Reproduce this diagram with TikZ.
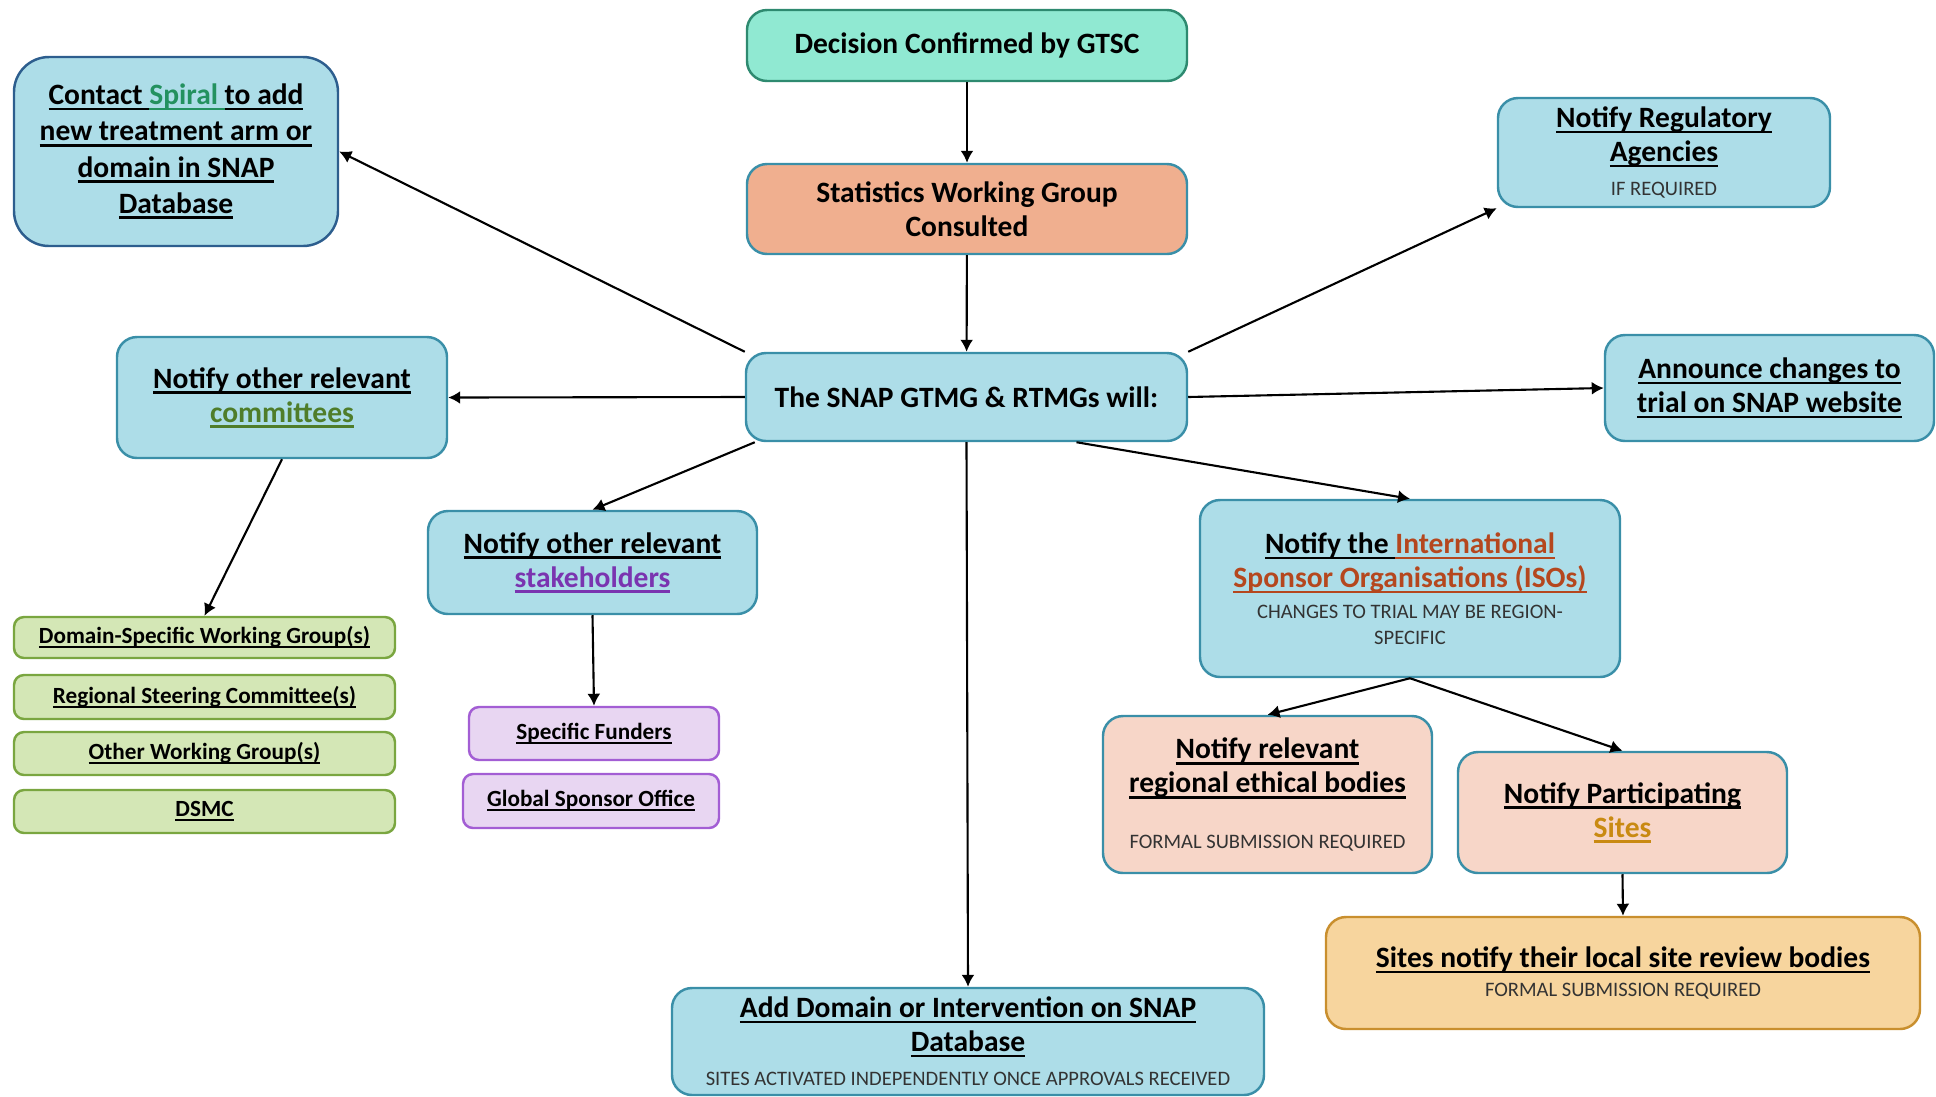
\documentclass[tikz,border=0pt]{standalone}
\usepackage{fontspec}
\setmainfont{Carlito}
\usepackage{xcolor}
\usetikzlibrary{calc}
\usetikzlibrary{arrows.meta}

% ---- Colours ----
\definecolor{mintfill}{HTML}{90E9D2}
\definecolor{mintline}{HTML}{2E8A70}
\definecolor{salmonfill}{HTML}{F0AF8F}
\definecolor{skyfill}{HTML}{ADDDE8}
\definecolor{skyline}{HTML}{3A8FA8}
\definecolor{navyline}{HTML}{2D5E8E}
\definecolor{leaffill}{HTML}{D4E7B6}
\definecolor{leafline}{HTML}{7AA640}
\definecolor{lilacfill}{HTML}{E8D6F2}
\definecolor{lilacline}{HTML}{A35ED4}
\definecolor{peachfill}{HTML}{F7D6C8}
\definecolor{goldfill}{HTML}{F7D59E}
\definecolor{goldline}{HTML}{C98F2E}
\definecolor{spiralgreen}{HTML}{23915F}
\definecolor{comgreen}{HTML}{4F7D2A}
\definecolor{stakepurple}{HTML}{7A34B0}
\definecolor{isored}{HTML}{B5471E}
\definecolor{sitesorange}{HTML}{C98A12}
\definecolor{notegray}{HTML}{333333}

% underline with its own colour and weight
\newcommand{\ulbar}[2][black]{\sbox0{#2}\leavevmode\rlap{\textcolor{#1}{\rule[-0.19em]{\wd0}{0.085em}}}\usebox0}
\newcommand{\notefont}{\fontsize{5.85}{7}\selectfont\mdseries\color{notegray}}

\begin{document}
\begin{tikzpicture}[
		font=\fontsize{8.4}{9.7}\selectfont\bfseries,
		box/.style={draw, rounded corners=0.2cm, line width=0.7pt, align=center, inner sep=2pt},
		mintbox/.style={box, fill=mintfill, draw=mintline},
		salmonbox/.style={box, fill=salmonfill, draw=skyline},
		skybox/.style={box, fill=skyfill, draw=skyline},
		peachbox/.style={box, fill=peachfill, draw=skyline},
		goldbox/.style={box, fill=goldfill, draw=goldline},
		leafbox/.style={box, rounded corners=0.1cm, fill=leaffill, draw=leafline, minimum width=3.81cm, font=\fontsize{6.6}{7.4}\selectfont\bfseries},
		lilacbox/.style={box, rounded corners=0.1cm, fill=lilacfill, draw=lilacline, font=\fontsize{6.6}{7.4}\selectfont\bfseries},
		arr/.style={-{Latex[length=1.2mm,width=1.3mm]}, line width=0.6pt}
	]
		% ---- Canvas ----
		\useasboundingbox (0,0) rectangle (19.36,-10.96);
		
		% ---- Main column ----
		\node[mintbox, minimum width=4.40cm, minimum height=0.71cm] (decision) at (9.67,-0.455) {Decision Confirmed by GTSC};
		\node[salmonbox, minimum width=4.40cm, minimum height=0.90cm] (stats) at (9.67,-2.09) {Statistics Working Group\\Consulted};
		\node[skybox, minimum width=4.41cm, minimum height=0.88cm] (snap) at (9.665,-3.97) {The SNAP GTMG \& RTMGs will:};
		\node[skybox, minimum width=5.92cm, minimum height=1.07cm] (adddomain) at (9.68,-10.415)
			{\ulbar{Add Domain or Intervention on SNAP}\\ \ulbar{Database}\\ {\notefont SITES ACTIVATED INDEPENDENTLY ONCE APPROVALS RECEIVED}};
		
		% ---- Left side ----
		\node[skybox, draw=navyline, rounded corners=0.35cm, minimum width=3.24cm, minimum height=1.89cm] (spiral) at (1.76,-1.515)
			{\ulbar{Contact }\ulbar[spiralgreen]{\color{spiralgreen}Spiral }\ulbar{to add}\\[0.6pt] \ulbar{new treatment arm or}\\[0.6pt] \ulbar{domain in SNAP}\\[0.6pt] \ulbar{Database}};
		\node[skybox, minimum width=3.30cm, minimum height=1.21cm] (committees) at (2.82,-3.975)
			{\ulbar{Notify other relevant}\\ \ulbar[comgreen]{\color{comgreen}committees}};
		\node[leafbox, minimum height=0.41cm] (domainwg) at (2.045,-6.375) {\ulbar{Domain-Specific Working Group(s)}};
		\node[leafbox, minimum height=0.44cm] (regionalsc) at (2.045,-6.97) {\ulbar{Regional Steering Committee(s)}};
		\node[leafbox, minimum height=0.43cm] (otherwg) at (2.045,-7.535) {\ulbar{Other Working Group(s)}};
		\node[leafbox, minimum height=0.43cm] (dsmc) at (2.045,-8.115) {\ulbar{DSMC}};
		
		\node[skybox, minimum width=3.29cm, minimum height=1.03cm] (stakeholders) at (5.925,-5.625)
			{\ulbar{Notify other relevant}\\ \ulbar[stakepurple]{\color{stakepurple}stakeholders}};
		\node[lilacbox, minimum width=2.50cm, minimum height=0.53cm] (funders) at (5.94,-7.335) {\ulbar{Specific Funders}};
		\node[lilacbox, minimum width=2.56cm, minimum height=0.54cm] (gso) at (5.91,-8.01) {\ulbar{Global Sponsor Office}};
		
		% ---- Right side ----
		\node[skybox, minimum width=3.32cm, minimum height=1.09cm] (regulatory) at (16.64,-1.525)
			{\ulbar{Notify Regulatory}\\ \ulbar{Agencies}\\ {\notefont IF REQUIRED}};
		\node[skybox, minimum width=3.29cm, minimum height=1.06cm] (announce) at (17.695,-3.88)
			{\ulbar{Announce changes to}\\ \ulbar{trial on SNAP website}};
		\node[skybox, minimum width=4.20cm, minimum height=1.77cm] (isos) at (14.10,-5.885)
			{\ulbar{Notify the }\ulbar[isored]{\color{isored}International}\\ \ulbar[isored]{\color{isored}Sponsor Organisations (ISOs)}\\[-0.8pt] {\notefont CHANGES TO TRIAL MAY BE REGION-}\\[-2.5pt] {\notefont SPECIFIC}};
		\node[peachbox, minimum width=3.29cm, minimum height=1.57cm] (ethical) at (12.675,-7.945)
			{\ulbar{Notify relevant}\\ \ulbar{regional ethical bodies}\\[6pt] {\notefont FORMAL SUBMISSION REQUIRED}};
		\node[peachbox, minimum width=3.29cm, minimum height=1.21cm] (participating) at (16.225,-8.125)
			{\ulbar{Notify Participating}\\ \ulbar[sitesorange]{\color{sitesorange}Sites}};
		\node[goldbox, minimum width=5.94cm, minimum height=1.12cm] (sitesreview) at (16.23,-9.73)
			{\ulbar{Sites notify their local site review bodies}\\[-1.5pt] {\notefont FORMAL SUBMISSION REQUIRED}};
		
		% ---- Connectors ----
		\draw[arr] (decision) -- (stats);
		\draw[arr] (stats) -- (snap);
		\draw[arr] (snap.north west) -- (spiral.east);
		\draw[arr] (snap.west) -- (committees.east);
		\draw[arr] (snap.north east) -- (regulatory.south west);
		\draw[arr] (snap.east) -- (announce.west);
		\draw[arr] ([xshift=0.1cm]snap.south west) -- (stakeholders.north);
		\draw[arr] ([xshift=1.1cm]snap.south) -- (isos.north);
		\draw[arr] (snap.south) -- (adddomain.north);
		\draw[arr] (committees.south) -- (domainwg.north);
		\draw[arr] (stakeholders.south) -- (funders.north);
		\draw[arr] (isos.south) -- (ethical.north);
		\draw[arr] (isos.south) -- (participating.north);
		\draw[arr] (participating.south) -- (sitesreview.north);
		
	\end{tikzpicture}
\end{document}
